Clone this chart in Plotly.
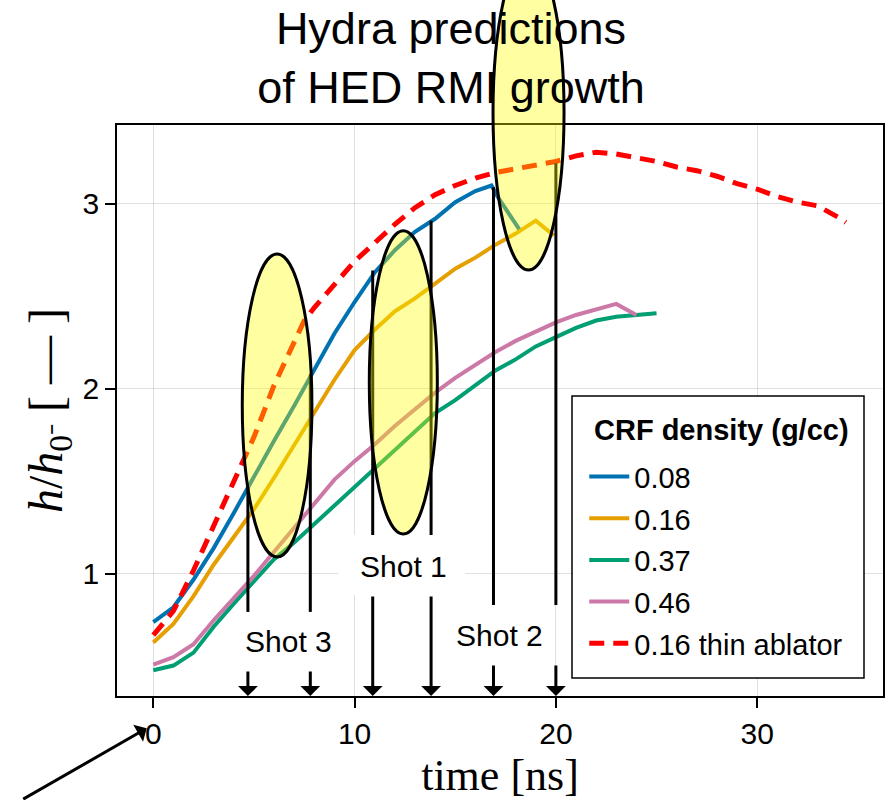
import plotly.graph_objects as go

# ---------------- data ----------------
title_text = "Hydra predictions<br>of HED RMI growth"
legend_title = "CRF density (g/cc)"

t_008 = [0, 1, 2, 3, 4, 5, 6, 7, 8, 9, 10, 11, 12, 13, 14, 15, 16, 16.8, 17.1, 18.2]
h_008 = [0.74, 0.82, 0.97, 1.14, 1.33, 1.53, 1.72, 1.91, 2.11, 2.30, 2.47, 2.63, 2.75, 2.85, 2.92, 3.01, 3.07, 3.10, 3.04, 2.86]

t_016 = [0, 1, 2, 3, 4, 5, 6, 7, 8, 9, 10, 11, 12, 13, 14, 15, 16, 17, 18, 19, 19.9]
h_016 = [0.63, 0.73, 0.88, 1.05, 1.20, 1.35, 1.52, 1.70, 1.87, 2.05, 2.21, 2.32, 2.42, 2.49, 2.57, 2.65, 2.71, 2.78, 2.84, 2.91, 2.83]

t_037 = [0, 1, 2, 3, 4, 5, 6, 7, 8, 9, 10, 11, 12, 13, 14, 15, 16, 17, 18, 19, 20, 21, 22, 23, 24, 25]
h_037 = [0.48, 0.505, 0.575, 0.715, 0.84, 0.96, 1.08, 1.17, 1.27, 1.37, 1.47, 1.57, 1.67, 1.77, 1.87, 1.94, 2.02, 2.10, 2.16, 2.23, 2.28, 2.33, 2.37, 2.39, 2.40, 2.41]

t_046 = [0, 1, 2, 3, 4, 5, 6, 7, 8, 9, 10, 11, 12, 13, 14, 15, 16, 17, 18, 19, 20, 21, 22, 23, 23.5, 24]
h_046 = [0.51, 0.55, 0.62, 0.75, 0.87, 0.99, 1.12, 1.25, 1.38, 1.51, 1.61, 1.70, 1.80, 1.89, 1.98, 2.06, 2.13, 2.20, 2.26, 2.31, 2.36, 2.40, 2.43, 2.46, 2.43, 2.40]

t_thin = [0, 1, 2, 3, 4, 5, 6, 7, 7.5, 8, 9, 10, 11, 12, 13, 14, 15, 16, 17, 18, 19, 20, 21, 22, 23, 24, 25, 26, 27, 28, 29, 30, 31, 32, 32.6, 33, 34, 34.4]
h_thin = [0.67, 0.80, 1.02, 1.26, 1.50, 1.74, 2.02, 2.25, 2.37, 2.44, 2.57, 2.69, 2.79, 2.89, 2.98, 3.05, 3.10, 3.14, 3.17, 3.19, 3.21, 3.23, 3.26, 3.28, 3.27, 3.25, 3.23, 3.20, 3.18, 3.15, 3.11, 3.08, 3.04, 3.01, 3.00, 2.99, 2.93, 2.90]

series_names = ["0.08", "0.16", "0.37", "0.46", "0.16 thin ablator"]
series_colors = ["#0072B2", "#E69F00", "#009E73", "#CC79A7", "#FF0000"]

x_ticks = [0, 10, 20, 30]
y_ticks = [1, 2, 3]

# shot timing markers (ns) and the h value where each marker line starts
shot_times = [4.7, 7.8, 10.9, 13.8, 16.9, 20.0]
shot_tops = [1.47, 2.08, 2.64, 2.91, 3.09, 3.22]
shot_labels = ["Shot 3", "Shot 1", "Shot 2"]

# ---------------- figure ----------------
X_RANGE = [-1.803, 36.25]
Y_RANGE = [0.3405, 3.427]
SANS = "Liberation Sans"
SERIF = "Liberation Serif"

fig = go.Figure()
series = [(t_008, h_008), (t_016, h_016), (t_037, h_037), (t_046, h_046), (t_thin, h_thin)]
for i, ((tx, hy), name, col) in enumerate(zip(series, series_names, series_colors)):
    dash = "15px,9px" if i == 4 else "solid"
    fig.add_trace(go.Scatter(
        x=tx, y=hy, mode="lines", name=name,
        line=dict(color=col, width=5 if i == 4 else 4, dash=dash),
        legendgroup=name,
    ))

shapes = []
annotations = []

# label geometry for each pair of shot lines: (label x, label y, gap top, gap bottom)
label_geom = [
    (6.72, 0.635, 0.795, 0.481),
    (12.45, 1.043, 1.211, 0.886),
    (17.22, 0.665, 0.832, 0.514),
]

# vertical marker segments above the labels
for k, (lx, ly, gtop, gbot) in enumerate(label_geom):
    for j in (2 * k, 2 * k + 1):
        shapes.append(dict(type="line", xref="x", yref="y", layer="above",
                           x0=shot_times[j], x1=shot_times[j], y0=shot_tops[j], y1=gtop,
                           line=dict(color="black", width=3)))

# white box behind "Shot 1"
shapes.append(dict(type="rect", xref="x", yref="y", layer="above",
                   x0=9.18, x1=15.48, y0=0.886, y1=1.211,
                   fillcolor="white", line=dict(width=0)))

# legend frame
shapes.append(dict(type="rect", xref="paper", yref="paper", layer="above",
                   x0=0.594, x1=0.9752, y0=0.0315, y1=0.5254,
                   fillcolor="white", line=dict(color="black", width=1.5)))

# highlight ellipses
ell_fill = "rgba(255,255,0,0.37)"
shapes.append(dict(type="circle", xref="x", yref="y", layer="above",
                   x0=4.42, x1=7.88, y0=1.092, y1=2.730,
                   fillcolor=ell_fill, line=dict(color="black", width=3)))
shapes.append(dict(type="circle", xref="x", yref="y", layer="above",
                   x0=10.73, x1=14.11, y0=1.216, y1=2.856,
                   fillcolor=ell_fill, line=dict(color="black", width=3)))
shapes.append(dict(type="circle", xref="paper", yref="paper", layer="above",
                   x0=0.4909, x1=0.5836, y0=0.7461, y1=1.2977,
                   fillcolor=ell_fill, line=dict(color="black", width=3)))

# arrows below labels
for k, (lx, ly, gtop, gbot) in enumerate(label_geom):
    for j in (2 * k, 2 * k + 1):
        annotations.append(dict(x=shot_times[j], y=Y_RANGE[0], xref="x", yref="y",
                                ax=shot_times[j], ay=gbot, axref="x", ayref="y",
                                text="", showarrow=True, arrowhead=1, arrowsize=1.1,
                                arrowwidth=3, arrowcolor="black", standoff=0))
    annotations.append(dict(x=lx, y=ly, xref="x", yref="y", text=shot_labels[k],
                            showarrow=False,
                            font=dict(family=SANS, size=30, color="black")))

# arrow pointing at the origin tick label
annotations.append(dict(x=0.0388, y=-0.0566, xref="paper", yref="paper",
                        ax=-125, ay=80, text="", showarrow=True, arrowhead=1,
                        arrowsize=1.1, arrowwidth=3, arrowcolor="black", standoff=0))

# legend title
annotations.append(dict(x=0.6201, y=0.4658, xref="paper", yref="paper",
                        xanchor="left", yanchor="middle", showarrow=False,
                        text="<b>" + legend_title + "</b>",
                        font=dict(family=SANS, size=29, color="black")))

fig.update_layout(
    width=893, height=800,
    margin=dict(l=117, r=10, t=125, b=104, autoexpand=False),
    paper_bgcolor="white", plot_bgcolor="white",
    title=dict(text=title_text, x=0.505, xanchor="center", y=0.945, yanchor="top",
               yref="container",
               font=dict(family=SANS, size=45, color="black")),
    shapes=shapes, annotations=annotations,
    legend=dict(x=0.610, y=0.4288, xanchor="left", yanchor="top",
                bgcolor="rgba(0,0,0,0)", borderwidth=0,
                font=dict(family=SANS, size=29, color="black"),
                itemwidth=40,
                traceorder="grouped", tracegroupgap=1),
    showlegend=True,
)

axis_common = dict(showline=True, linecolor="black", linewidth=1.5, mirror=True,
                   showgrid=True, gridcolor="rgba(0,0,0,0.12)", gridwidth=1,
                   zeroline=False, ticks="outside", ticklen=10, tickwidth=1.5,
                   tickcolor="black", automargin=False,
                   tickfont=dict(family=SANS, size=30, color="black"))

fig.update_xaxes(range=X_RANGE, tickvals=x_ticks, **axis_common,
                 title=dict(text="time [ns]", standoff=12,
                            font=dict(family=SERIF, size=44, color="black")))
fig.update_yaxes(range=Y_RANGE, tickvals=y_ticks, ticklabelstandoff=0, **axis_common,
                 title=dict(text="<i>h</i>/<i>h</i><sub>0⁻</sub> [ — ]", standoff=5,
                            font=dict(family=SERIF, size=48, color="black")))

fig.write_html("out.html", config={"displayModeBar": False},
               post_script="document.body.style.margin='0px';")
